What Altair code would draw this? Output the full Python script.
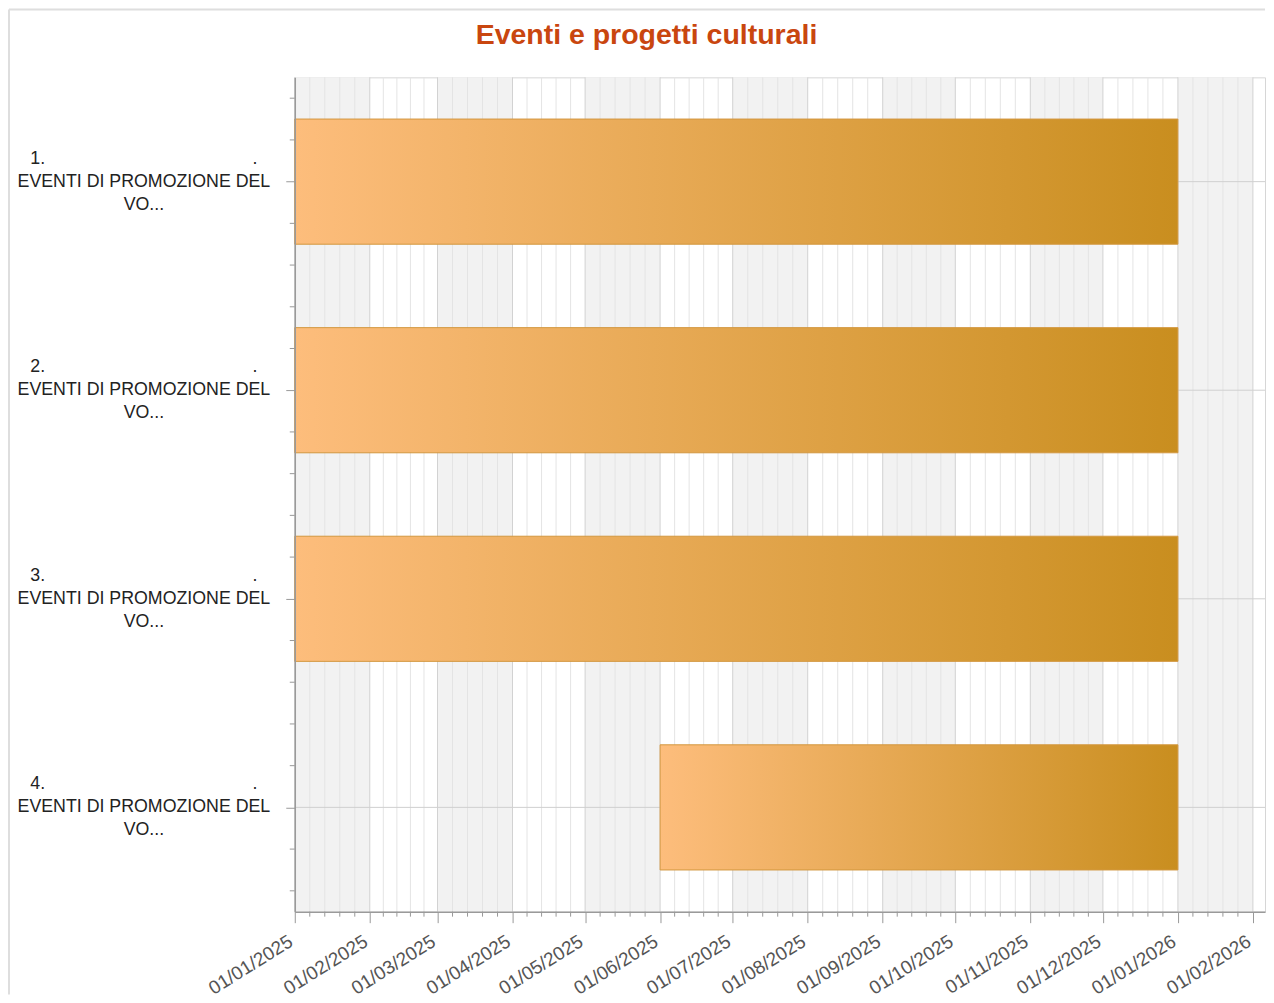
import calendar
from datetime import datetime
import altair as alt
import pandas as pd

W, H = 971, 835

# ---------------- data ----------------
row_numbers = ["1.", "2.", "3.", "4."]
row_names = ["EVENTI DI PROMOZIONE DEL", "EVENTI DI PROMOZIONE DEL",
             "EVENTI DI PROMOZIONE DEL", "EVENTI DI PROMOZIONE DEL"]
row_tails = ["VO...", "VO...", "VO...", "VO..."]
task_start = ["2025-01-01", "2025-01-01", "2025-01-01", "2025-06-01"]
task_end = ["2026-01-01", "2026-01-01", "2026-01-01", "2026-01-01"]

month_starts = ["2025-01-01", "2025-02-01", "2025-03-01", "2025-04-01",
                "2025-05-01", "2025-06-01", "2025-07-01", "2025-08-01",
                "2025-09-01", "2025-10-01", "2025-11-01", "2025-12-01",
                "2026-01-01", "2026-02-01", "2026-03-01"]
x_domain = ["2025-01-01", "2026-02-06"]
title_text = "Eventi e progetti culturali"


def ms(s):
    d = datetime.strptime(s, "%Y-%m-%d")
    return calendar.timegm(d.timetuple()) * 1000


dom = [ms(x_domain[0]), ms(x_domain[1])]
tick_values = [ms(m) for m in month_starts if ms(m) <= dom[1]]

tasks = pd.DataFrame({
    "row": list(range(len(row_numbers))),
    "start": [ms(s) for s in task_start],
    "end": [ms(e) for e in task_end],
    "label": [n + "\u00a0" * 42 + ".\n" + nm + "\n" + t
              for n, nm, t in zip(row_numbers, row_names, row_tails)],
})

stripes = pd.DataFrame({
    "a": [ms(month_starts[i]) for i in range(0, len(month_starts) - 1, 2)],
    "b": [min(ms(month_starts[i + 1]), dom[1]) for i in range(0, len(month_starts) - 1, 2)],
})

minor = []
for a, b in zip(month_starts[:-1], month_starts[1:]):
    for k in range(1, 5):
        t = ms(a) + (ms(b) - ms(a)) * k / 5
        if t < dom[1]:
            minor.append(t)
minor_df = pd.DataFrame({"t": minor})
major_df = pd.DataFrame({"t": tick_values})

y_minor = pd.DataFrame({"y": [r + f for r in range(len(row_numbers)) for f in (0.1, 0.3, 0.7, 0.9)]})
y_center = pd.DataFrame({"y": [r + 0.5 for r in range(len(row_numbers))]})

# ---------------- encodings ----------------
xscale = alt.Scale(type="utc", domain=dom, nice=False)
xaxis = alt.Axis(values=tick_values, format="%d/%m/%Y", labelAngle=-32,
                 labelFontSize=19, labelFont="Liberation Sans", labelColor="#555555",
                 labelOverlap=False, labelPadding=9, labelOffset=-9,
                 tickSize=11, tickColor="#999999", domainColor="#9a9a9a",
                 domainWidth=1.5, grid=False, title=None, zindex=1)
yscale = alt.Scale(domain=[0, len(row_numbers)], reverse=True, nice=False, zero=False)
yaxis = alt.Axis(values=[r + 0.5 for r in range(len(row_numbers))], labels=False,
                 tickSize=9, tickColor="#999999", domainColor="#9a9a9a",
                 domainWidth=1.5, grid=False, title=None, zindex=1)


def X(f):
    return alt.X(f, type="temporal", scale=xscale, axis=xaxis)


def Y(f):
    return alt.Y(f, type="quantitative", scale=yscale, axis=yaxis)


stripe_layer = alt.Chart(stripes).mark_rect(fill="#f2f2f2").encode(
    x=X("a"), x2="b", y=alt.value(0), y2=alt.value(H))

minor_grid = alt.Chart(minor_df).mark_rule(color="#e4e4e4", strokeWidth=1).encode(
    x=X("t"), y=alt.value(0), y2=alt.value(H))

major_grid = alt.Chart(major_df).mark_rule(color="#d2d2d2", strokeWidth=1).encode(
    x=X("t"), y=alt.value(0), y2=alt.value(H))

h_grid = alt.Chart(y_center).mark_rule(color="#d0d0d0", strokeWidth=1).encode(
    y=Y("y"), x=alt.value(0), x2=alt.value(W))

bars = alt.Chart(tasks).mark_rect(
    fill=alt.Gradient(gradient="linear",
                      stops=[alt.GradientStop(color="#FDBD7C", offset=0),
                             alt.GradientStop(color="#C98E1F", offset=1)],
                      x1=0, x2=1, y1=0, y2=0),
    stroke="#D3973E", strokeWidth=1,
).transform_calculate(
    y0="datum.row + 0.2", y1="datum.row + 0.8"
).encode(x=X("start"), x2="end", y=Y("y0"), y2="y1")

x_minor_ticks = alt.Chart(minor_df).mark_rule(color="#999999").encode(
    x=X("t"), y=alt.value(H), y2=alt.value(H + 5))

y_minor_ticks = alt.Chart(y_minor).mark_rule(color="#999999").encode(
    y=Y("y"), x=alt.value(-5), x2=alt.value(0))

labels = alt.Chart(tasks).mark_text(
    align="center", baseline="middle", lineBreak="\n", lineHeight=23, dy=-23,
    font="Liberation Sans", fontSize=17.8, color="#222222",
).transform_calculate(yc="datum.row + 0.5").encode(
    y=Y("yc"), x=alt.value(-151), text="label:N")

title = alt.Chart(pd.DataFrame({"t": [title_text]})).mark_text(
    align="center", baseline="middle", font="Liberation Sans", fontSize=28.5,
    fontWeight="bold", color="#C9460F",
).encode(x=alt.value(352), y=alt.value(-42), text="t:N")

frame_left = alt.Chart(pd.DataFrame({"t": [0]})).mark_rule(color="#dedede", strokeWidth=2).encode(
    x=alt.value(-286), y=alt.value(-68), y2=alt.value(H + 83))
frame_top = alt.Chart(pd.DataFrame({"t": [0]})).mark_rule(color="#dedede", strokeWidth=2).encode(
    x=alt.value(-286), x2=alt.value(W), y=alt.value(-68))

chart = alt.layer(
    stripe_layer, minor_grid, major_grid, h_grid, bars,
    x_minor_ticks, y_minor_ticks, labels, title, frame_left, frame_top,
).properties(
    width=W, height=H, padding=0, background="white"
).configure_view(stroke="#d6d6d6", strokeWidth=1)

chart.save("out.html", embed_options={"renderer": "svg", "actions": False})
